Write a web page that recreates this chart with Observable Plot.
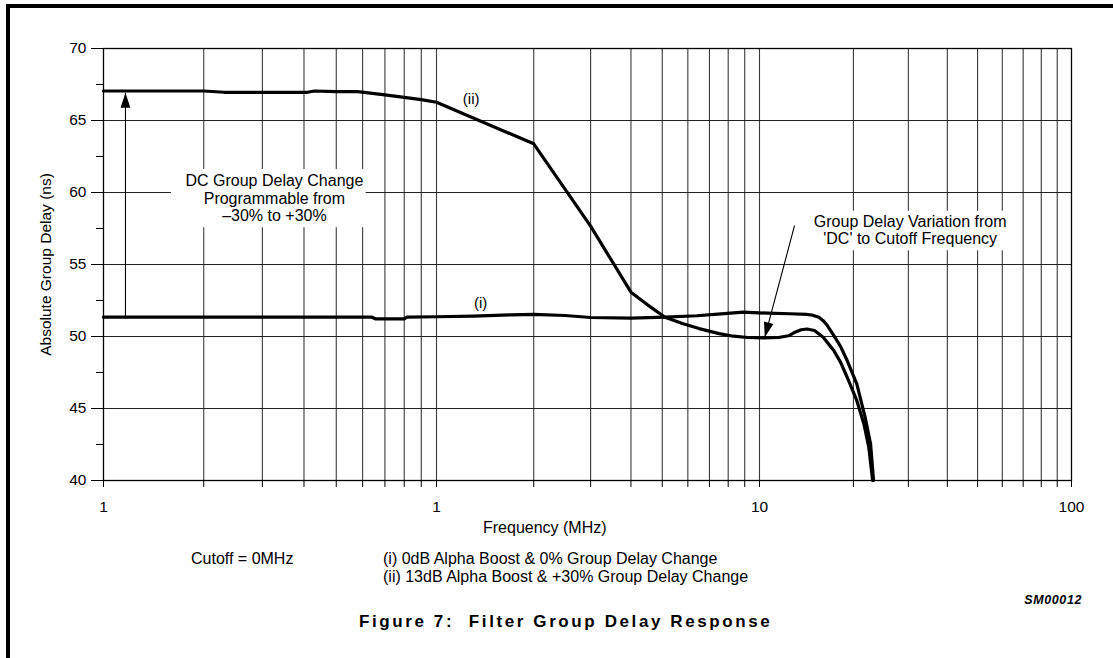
<!DOCTYPE html>
<html>
<head>
<meta charset="utf-8">
<script src="https://cdn.jsdelivr.net/npm/d3@7"></script>
<script src="https://cdn.jsdelivr.net/npm/@observablehq/plot@0.6"></script>
<style>
  html, body { margin: 0; padding: 0; background: #fff; }
  #page { position: relative; width: 1113px; height: 658px; overflow: hidden; background: #fff;
          font-family: "Liberation Sans", Arial, Helvetica, sans-serif; color: #000; }
  #chart { position: absolute; left: 0; top: 0; }
  .bar { position: absolute; background: #000; z-index: 3; }
  .t { position: absolute; white-space: nowrap; line-height: 1; font-size: 16px; z-index: 2; }
</style>
</head>
<body>
<div id="page">
  <div id="chart"></div>
  <div class="bar" style="left:6px;top:4px;width:1107px;height:3.5px"></div>
  <div class="bar" style="left:6px;top:4px;width:4px;height:654px"></div>
  <div class="t" id="xlabel" style="left:483px;top:519.5px">Frequency (MHz)</div>
  <div class="t" id="cutoff" style="left:191px;top:551px">Cutoff = 0MHz</div>
  <div class="t" id="leg1" style="left:383px;top:551px">(i) 0dB Alpha Boost &amp; 0% Group Delay Change</div>
  <div class="t" id="leg2" style="left:383px;top:569px">(ii) 13dB Alpha Boost &amp; +30% Group Delay Change</div>
  <div class="t" id="code" style="right:31px;top:594px;font-size:12.5px;font-weight:bold;font-style:italic;letter-spacing:0.6px">SM00012</div>
  <div class="t" id="title" style="left:359px;top:613px;font-size:17px;font-weight:bold;letter-spacing:2.6px">Figure 7:&nbsp; Filter Group Delay Response</div>
</div>
<script>
// ---------------- data ----------------
// curve (i): 0dB Alpha Boost & 0% Group Delay Change
const freqI  = [0.1, 0.2, 0.3, 0.45, 0.64, 0.655, 0.8, 0.815, 1.0, 1.3, 1.7, 2.0, 2.5, 3.0, 4.0, 5.1, 6.4, 7.6, 8.9, 10.6, 12.5, 14.2, 14.8, 15.5, 16.0, 16.5, 17.3, 18.2, 19.1, 20.5, 21.8, 22.7, 23.2];
const delayI = [51.34, 51.34, 51.34, 51.34, 51.34, 51.23, 51.23, 51.34, 51.37, 51.42, 51.5, 51.53, 51.46, 51.32, 51.27, 51.34, 51.44, 51.57, 51.69, 51.62, 51.58, 51.53, 51.48, 51.34, 51.1, 50.76, 50.07, 49.3, 48.33, 46.71, 44.4, 42.55, 40.0];
// curve (ii): 13dB Alpha Boost & +30% Group Delay Change
const freqII  = [0.1, 0.2, 0.23, 0.41, 0.43, 0.5, 0.58, 0.7, 0.8, 0.9, 1.0, 2.0, 3.0, 4.0, 4.5, 5.1, 5.8, 6.5, 7.5, 8.3, 9.2, 10.3, 11.5, 12.4, 13.0, 13.6, 14.2, 15.0, 16.0, 17.3, 18.2, 19.1, 20.5, 21.6, 22.4, 23.05];
const delayII = [67.05, 67.05, 66.96, 66.96, 67.05, 67.0, 67.0, 66.78, 66.6, 66.45, 66.27, 63.38, 57.66, 53.08, 52.2, 51.34, 50.88, 50.55, 50.2, 50.02, 49.93, 49.9, 49.93, 50.05, 50.3, 50.47, 50.52, 50.42, 49.95, 49.03, 48.2, 47.17, 45.56, 43.94, 42.31, 40.0];

// axes
const freqTicks = [0.1, 0.2, 0.3, 0.4, 0.5, 0.6, 0.7, 0.8, 0.9, 1, 2, 3, 4, 5, 6, 7, 8, 9, 10, 20, 30, 40, 50, 60, 70, 80, 90, 100];
const freqGrid = freqTicks.slice(1, -1);
const freqLabelValues = [0.1, 1, 10, 100];
const freqLabels = ["1", "1", "10", "100"];
const delayMajor = [40, 45, 50, 55, 60, 65, 70];
const delayMinor = [42.5, 47.5, 52.5, 57.5, 62.5, 67.5];

// annotations (data coordinates)
const curveNames = ["(i)", "(ii)"];
const curveNameFreq = [1.37, 1.28];
const curveNameDelay = [52.3, 66.5];
const noteTexts = ["DC Group Delay Change\nProgrammable from\n\u201330% to +30%", "Group Delay Variation from\n'DC' to Cutoff Frequency"];
const noteFreq = [0.326, 30.4];
const noteDelay = [59.6, 57.4];
const noteBoxF1 = [0.16, 14.4];
const noteBoxF2 = [0.615, 67];
const noteBoxD1 = [57.55, 55.95];
const noteBoxD2 = [61.6, 58.7];
const arrowF1 = [0.1164, 12.95];
const arrowD1 = [51.34, 57.7];
const arrowF2 = [0.1164, 10.4];
const arrowD2 = [66.92, 49.95];

// ---------------- build ----------------
const seriesI = freqI.map((f, i) => ({f, d: delayI[i]}));
const seriesII = freqII.map((f, i) => ({f, d: delayII[i]}));
const notes = noteTexts.map((text, i) => ({text, f: noteFreq[i], d: noteDelay[i],
  f1: noteBoxF1[i], f2: noteBoxF2[i], d1: noteBoxD1[i], d2: noteBoxD2[i]}));
const names = curveNames.map((text, i) => ({text, f: curveNameFreq[i], d: curveNameDelay[i]}));
const arrows = arrowF1.map((f1, i) => ({f1, d1: arrowD1[i], f2: arrowF2[i], d2: arrowD2[i]}));

const W = 1113, H = 545;
const frame = {left: 103, right: 1071, top: 48, bottom: 480};
const arrowHead = {
  draw(ctx) { ctx.moveTo(0, 0); ctx.lineTo(4.9, 15); ctx.lineTo(-4.9, 15); ctx.closePath(); }
};
const fmtX = d => { const i = freqLabelValues.indexOf(d); return i >= 0 ? freqLabels[i] : ""; };

function build(extra) {
  return Plot.plot({
    width: W, height: H,
    marginLeft: frame.left, marginRight: W - frame.right,
    marginTop: frame.top, marginBottom: H - frame.bottom,
    style: {fontFamily: '"Liberation Sans", Arial, Helvetica, sans-serif', fontSize: "15.5px",
            background: "transparent", overflow: "visible", color: "#000"},
    x: {type: "log", domain: [0.1, 1, 10, 100], range: [frame.left, 436, 759, frame.right]},
    y: {domain: [40, 70]},
    marks: [
      Plot.ruleX(freqGrid, {stroke: "#3a3a3a", strokeWidth: 1.1}),
      Plot.ruleY(delayMajor, {stroke: "#222", strokeWidth: 1.1}),
      Plot.rect(notes, {x1: "f1", x2: "f2", y1: "d1", y2: "d2", fill: "white"}),
      Plot.frame({stroke: "#000", strokeWidth: 1.3}),
      Plot.axisX(freqTicks, {tickSize: 7, tickPadding: 13.5, tickFormat: fmtX, label: null, fontSize: 15.5}),
      Plot.axisY(delayMajor, {tickSize: 12, tickPadding: 5, tickFormat: d => String(d), fontSize: 15.5,
        label: "Absolute Group Delay (ns)", labelAnchor: "center", labelOffset: 64, labelArrow: "none"}),
      Plot.axisY(delayMinor, {tickSize: 7, tickFormat: () => "", label: null}),
      Plot.line(seriesI, {x: "f", y: "d", stroke: "#000", strokeWidth: 3.2, strokeLinejoin: "round"}),
      Plot.line(seriesII, {x: "f", y: "d", stroke: "#000", strokeWidth: 3.2, strokeLinejoin: "round"}),
      Plot.link(arrows, {x1: "f1", y1: "d1", x2: "f2", y2: "d2", stroke: "#000", strokeWidth: 1.1}),
      Plot.text(notes, {x: "f", y: "d", text: "text", fontSize: 16, lineHeight: 1.1, textAnchor: "middle", lineAnchor: "middle", fill: "#000"}),
      Plot.text(names, {x: "f", y: "d", text: "text", fontSize: 15, textAnchor: "middle", lineAnchor: "middle", fill: "#000"}),
      ...extra
    ]
  });
}

const probe = build([]);
const sx = probe.scale("x"), sy = probe.scale("y");
const rot = arrows.map(a => Math.atan2(sx.apply(a.f2) - sx.apply(a.f1), -(sy.apply(a.d2) - sy.apply(a.d1))) * 180 / Math.PI);

const chart = build([
  Plot.dot(arrows, {x: "f2", y: "d2", symbol: arrowHead, rotate: (d, i) => rot[i], fill: "#000", stroke: "none"})
]);
document.getElementById("chart").appendChild(chart);
</script>
</body>
</html>
